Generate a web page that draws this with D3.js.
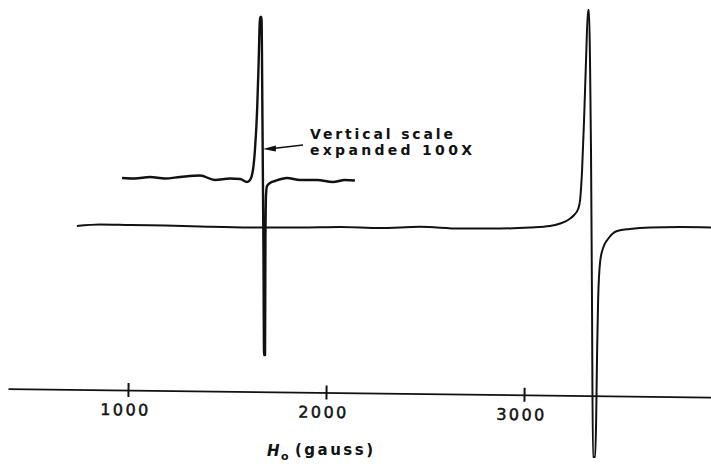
<!DOCTYPE html>
<html>
<head>
<meta charset="utf-8">
<script src="https://cdn.jsdelivr.net/npm/d3@7"></script>
<style>
  body { margin: 0; background: #fff; }
  svg text { font-family: "DejaVu Sans", sans-serif; fill: #111; font-weight: bold; }
</style>
</head>
<body>
<svg id="chart" width="711" height="464"></svg>
<script>
// field axis (gauss)
const fieldTicks = [1000, 2000, 3000]

// main trace: field (gauss) and signal (arbitrary units)
const mainField = [742, 859, 1010, 1187, 1364, 1616, 1869, 2071, 2273, 2475, 2677, 2879, 3030, 3131, 3182, 3222, 3253, 3273, 3283, 3293, 3303, 3313, 3323, 3328, 3333, 3338, 3343, 3348, 3359, 3364, 3369, 3374, 3384, 3399, 3424, 3470, 3535, 3636, 3788, 3944]
const mainSignal = [0, 1.5, 1, 0.5, -0.5, -1.5, -1.5, -1, -2, -0.8, -2.5, -2.5, -1.5, 0, 2.5, 6, 11, 17, 26, 56, 106, 166, 216, 216, 166, 76, -74, -231, -231, -194, -124, -74, -36, -22, -13, -5, -3, -1.5, -1, -1.5]

// vertical scale expanded 100x around the weak line
const expField = [970, 1035, 1111, 1187, 1263, 1364, 1439, 1515, 1566, 1601, 1616, 1631, 1641, 1652, 1659, 1667, 1674, 1679, 1684, 1687, 1692, 1694, 1697, 1702, 1717, 1742, 1803, 1869, 1955, 2035, 2096, 2146]
const expSignal = [48, 47.5, 49, 47.5, 49, 50.5, 46, 47.5, 47, 44, 46, 56, 76, 116, 159, 209, 209, 106, -24, -129, -129, -14, 31, 40, 43, 45, 48, 46, 46, 44, 46, 45.5]

const noteLines = ['Vertical scale', 'expanded 100X']

const svg = d3.select('#chart')

const x = d3.scaleLinear().domain([394, 3944]).range([8, 711])
const y = d3.scaleLinear().domain([0, 100]).range([226, 126])

const line = d3.line()
  .x(d => x(d[0]))
  .y(d => y(d[1]))
  .curve(d3.curveMonotoneX)

svg.append('path')
  .datum(d3.zip(mainField, mainSignal))
  .attr('d', line)
  .attr('fill', 'none')
  .attr('stroke', '#111')
  .attr('stroke-width', 2)
  .attr('stroke-linejoin', 'round')

svg.append('path')
  .datum(d3.zip(expField, expSignal))
  .attr('d', line)
  .attr('fill', 'none')
  .attr('stroke', '#111')
  .attr('stroke-width', 2.4)
  .attr('stroke-linejoin', 'round')

// axis, drawn slightly tilted like the original plot
const axisG = svg.append('g')
  .attr('transform', 'translate(0,390) rotate(0.7,' + x(1000) + ',0)')
  .call(d3.axisBottom(x).tickValues(fieldTicks).tickFormat(d3.format('d')).tickSize(7).tickPadding(7).tickSizeOuter(0))

axisG.select('.domain').attr('stroke', '#111').attr('stroke-width', 1.7)
axisG.selectAll('.tick line').attr('y1', -7).attr('y2', 7).attr('stroke', '#111').attr('stroke-width', 2)
axisG.selectAll('.tick text')
  .attr('dx', -4)
  .style('font-size', '16px')
  .style('font-weight', 'normal')
  .style('stroke', '#111').style('stroke-width', 0.5)
  .attr('textLength', 48)
  .attr('lengthAdjust', 'spacing')

// axis title
const title = svg.append('g')
title.append('text')
  .attr('x', 267).attr('y', 456)
  .style('font-size', '15px').style('font-style', 'italic')
  .text('H')
title.append('text')
  .attr('x', 281).attr('y', 460)
  .style('font-size', '11px')
  .text('o')
title.append('text')
  .attr('x', 295).attr('y', 455)
  .style('font-size', '15px')
  .attr('textLength', 78).attr('lengthAdjust', 'spacing')
  .text('(gauss)')

// annotation with arrow
const note = svg.append('text')
  .attr('x', 310).attr('y', 138.5)
  .style('font-size', '14px')
note.selectAll('tspan')
  .data(noteLines)
  .join('tspan')
  .attr('x', 310)
  .attr('dy', (d, i) => i ? 16.5 : 0)
  .attr('textLength', (d, i) => i ? 162 : 143)
  .attr('lengthAdjust', 'spacing')
  .text(d => d)

const tip = [x(1676) + 1, 149]
svg.append('line')
  .attr('x1', 303).attr('y1', 145)
  .attr('x2', tip[0] + 10).attr('y2', 148.5)
  .attr('stroke', '#111').attr('stroke-width', 1.6)
svg.append('path')
  .attr('d', 'M' + tip[0] + ',' + tip[1] + 'l13,-3.5l0,6z')
  .attr('fill', '#111')
</script>
</body>
</html>
